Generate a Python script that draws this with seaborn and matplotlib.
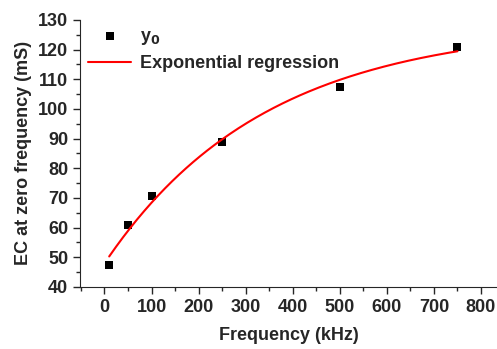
import numpy as np
import pandas as pd
import seaborn as sns
import matplotlib.pyplot as plt
from matplotlib.ticker import MultipleLocator

# measured data
freq = [10, 50, 100, 250, 500, 750]
ec0 = [47.5, 61.0, 70.5, 89.0, 107.5, 121.0]

xticks = [0, 100, 200, 300, 400, 500, 600, 700, 800]
yticks = [40, 50, 60, 70, 80, 90, 100, 110, 120, 130]

sns.set_style("ticks")
plt.rcParams['font.family'] = ['Liberation Sans', 'DejaVu Sans']
plt.rcParams['font.weight'] = 'bold'
plt.rcParams['axes.labelweight'] = 'bold'

df = pd.DataFrame({'freq': freq, 'ec0': ec0})

# exponential regression y = y0 + A*exp(-x/t): scan t, least squares for y0, A
x = np.array(freq, dtype=float)
y = np.array(ec0)
best = None
for t in np.linspace(50, 2000, 3901):
    M = np.column_stack([np.ones_like(x), np.exp(-x / t)])
    coef, res, _, _ = np.linalg.lstsq(M, y, rcond=None)
    err = np.sum((M @ coef - y) ** 2)
    if best is None or err < best[0]:
        best = (err, t, coef)
_, t_fit, (y0_fit, a_fit) = best
xs = np.linspace(min(freq), max(freq), 200)
fit = pd.DataFrame({'freq': xs, 'ec0': y0_fit + a_fit * np.exp(-xs / t_fit)})

fig = plt.figure(figsize=(4.97, 3.49), dpi=100)
ax = fig.add_axes([0.161, 0.178, 0.839, 0.765])

sns.scatterplot(data=df, x='freq', y='ec0', ax=ax, marker='s', s=30,
                color='black', edgecolor='black', linewidth=0, label='y$_\\mathbf{0}$')
sns.lineplot(data=fit, x='freq', y='ec0', ax=ax, color='red', linewidth=1.5,
             label='Exponential regression')

ax.set_xlim(-52, 834)
ax.set_ylim(40, 130)
ax.set_xticks(xticks)
ax.set_yticks(yticks)
ax.xaxis.set_minor_locator(MultipleLocator(50))
ax.yaxis.set_minor_locator(MultipleLocator(5))
ax.tick_params(which='major', direction='out', length=5, width=1, labelsize=13)
ax.tick_params(which='minor', direction='out', length=3, width=1)
ax.set_xlabel('Frequency (kHz)', fontsize=13, labelpad=8)
ax.set_ylabel('EC at zero frequency (mS)', fontsize=13, labelpad=4)
sns.despine(ax=ax)

ax.legend(loc='upper left', bbox_to_anchor=(-0.02, 1.03), frameon=False,
          fontsize=13, handlelength=2.4, handletextpad=0.5, labelspacing=0.45)

fig.savefig('out.png', dpi=100)
